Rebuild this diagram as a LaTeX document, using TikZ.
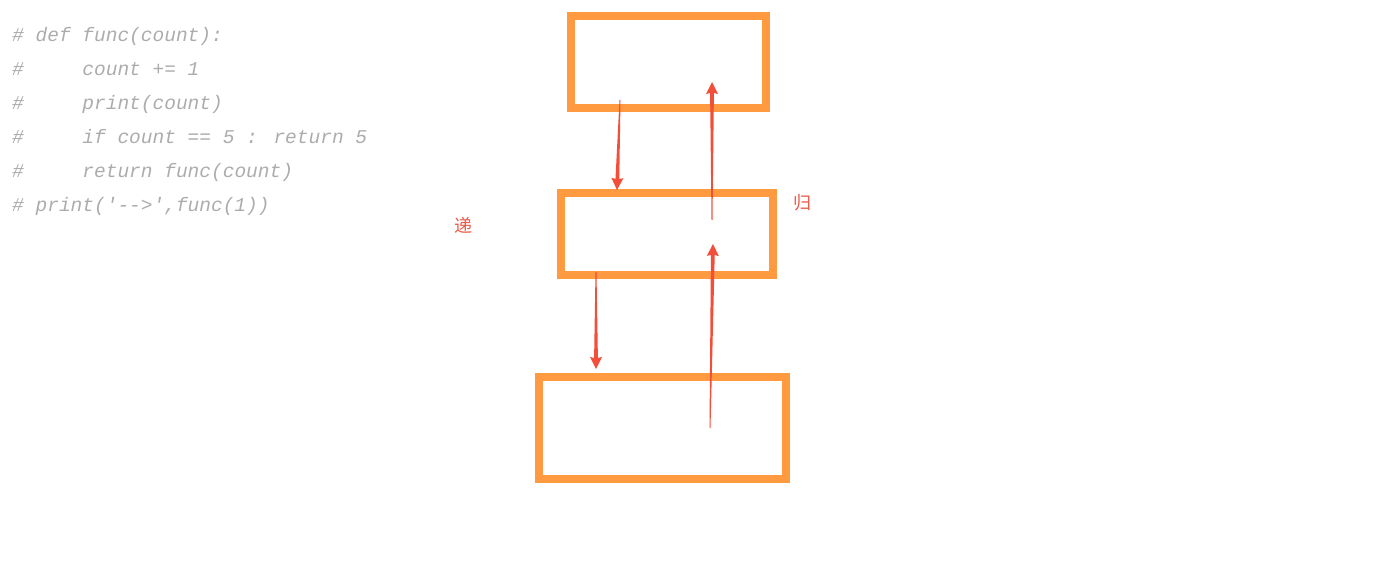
\documentclass[tikz,border=0pt]{standalone}
\usepackage{fontspec}
\newfontfamily\codefont{Liberation Mono}
\newfontfamily\cjkfont{Noto Sans CJK SC}
\usetikzlibrary{calc}
\definecolor{boxorange}{RGB}{255,154,64}
\definecolor{arrowred}{RGB}{242,78,58}
\definecolor{labelred}{RGB}{236,90,72}
\definecolor{codegray}{RGB}{172,172,172}
\tikzset{
  framebox/.style={draw=boxorange, line width=8pt, inner sep=0pt},
  redarrow/.style={fill=arrowred, draw=none},
  codeline/.style={anchor=base west, inner sep=0pt, text=codegray, font=\codefont\itshape\fontsize{19.5}{22}\selectfont},
  cjklabel/.style={text=labelred, font=\cjkfont\fontsize{18}{20}\selectfont, inner sep=0pt}
}
% tapered arrow from #1 to #2
\newcommand{\taperarrow}[2]{%
  \path[redarrow]
    ($(#1)!0.5pt!90:(#2)$) --
    ($($(#2)!11pt!(#1)$)!1.9pt!90:(#2)$) --
    ($($(#2)!12pt!(#1)$)!6pt!90:(#2)$) --
    (#2) --
    ($($(#2)!12pt!(#1)$)!6pt!-90:(#2)$) --
    ($($(#2)!11pt!(#1)$)!1.9pt!-90:(#2)$) --
    ($(#1)!0.5pt!-90:(#2)$) -- cycle;%
}
\begin{document}
\begin{tikzpicture}[x=1pt,y=-1pt]
\useasboundingbox (0,0) rectangle (1392,569);
% code
\node[codeline] (c1) at (12,42) {\#\ def func(count):};
\node[codeline] (c2) at (12,76) {\#\ \ \ \ \ count += 1};
\node[codeline] (c3) at (12,110) {\#\ \ \ \ \ print(count)};
\node[codeline] (c4) at (12,144) {\#\ \ \ \ \ if count == 5 : return 5};
\node[codeline] (c5) at (12,178) {\#\ \ \ \ \ return func(count)};
\node[codeline] (c6) at (12,212) {\#\ print('-->',func(1))};
% boxes
\node[framebox, minimum width=195pt, minimum height=92pt] (b1) at (668,62.5) {};
\node[framebox, minimum width=212pt, minimum height=82pt] (b2) at (666.5,234.5) {};
\node[framebox, minimum width=247pt, minimum height=102pt] (b3) at (662,427.5) {};
% labels
\node[cjklabel] (di) at (463,225) {递};
\node[cjklabel] (gui) at (802,203) {归};
% arrow endpoints
\coordinate (d1s) at (620,100);
\coordinate (d1e) at (617,190);
\coordinate (d2s) at (596,272);
\coordinate (d2e) at (596,369);
\coordinate (u1s) at (712,220);
\coordinate (u1e) at (712,82);
\coordinate (u2s) at (710,428);
\coordinate (u2e) at (713,244);
\taperarrow{d1s}{d1e}
\taperarrow{d2s}{d2e}
\taperarrow{u1s}{u1e}
\taperarrow{u2s}{u2e}
\end{tikzpicture}
\end{document}
